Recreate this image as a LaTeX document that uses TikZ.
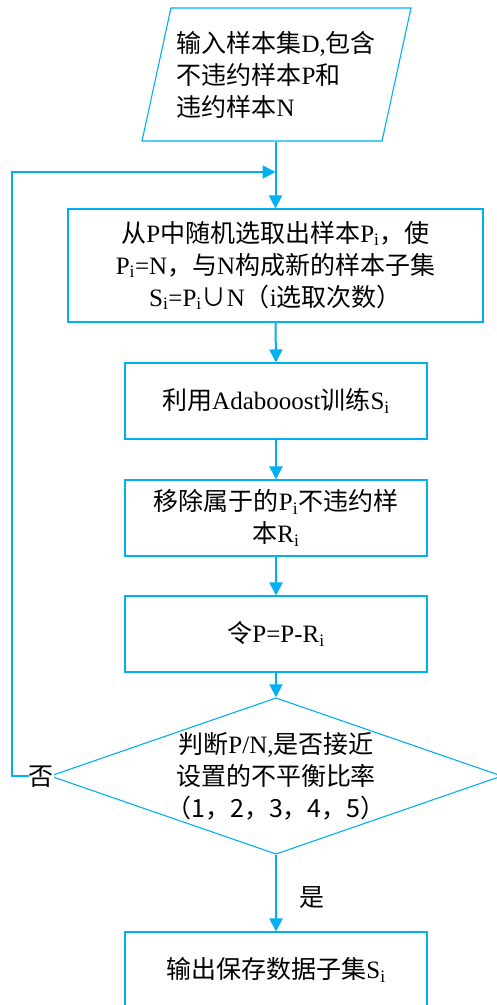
\documentclass[tikz,border=0pt]{standalone}
\usepackage{fontspec}
\setmainfont{Liberation Serif}
\newfontfamily\zhfont{Noto Sans CJK SC}
\newcommand\zh[1]{{\zhfont #1}}
\newcommand\sub[1]{\textsubscript{#1}}
\newcommand\mainsz{\fontsize{25}{32}\selectfont}
\usetikzlibrary{shapes.geometric,arrows.meta}
\definecolor{lineblue}{RGB}{0,176,240}
\begin{document}
\begin{tikzpicture}[x=1pt,y=-1pt,
  box/.style={draw=lineblue, line width=1.1pt, fill=white, minimum width=302pt,
    minimum height=76pt, align=center, inner sep=2pt, font=\mainsz},
  flow/.style={draw=lineblue, line width=2pt, -{Triangle[width=13pt,length=13pt]}},
  lbl/.style={font=\mainsz, inner sep=0pt}]
\useasboundingbox (0,0) rectangle (497,1005);
\node[draw=lineblue, line width=1.1pt, trapezium, trapezium left angle=72,
  trapezium right angle=108, trapezium stretches body, minimum width=269pt,
  minimum height=133pt, inner sep=1pt, text width=200pt, align=left, font=\mainsz]
  (in) at (276.5,74.5) {\zh{输入样本集}D,\zh{包含}\\\zh{不违约样本}P\zh{和}\\\zh{违约样本}N};
\node[box, minimum width=415pt, minimum height=113pt] (b1) at (275.5,265.5)
  {\zh{从}P\zh{中随机选取出样本}P\sub{i}\zh{，使}\\
   P\sub{i}=N\zh{，与}N\zh{构成新的样本子集}\\
   S\sub{i}=P\sub{i}\zh{∪}N\zh{（}i\zh{选取次数）}};
\node[box] (b2) at (276,401) {\zh{利用}Adabooost\zh{训练}S\sub{i}};
\node[box] (b3) at (276,518) {\zh{移除属于的}P\sub{i}\zh{不违约样}\\\zh{本}R\sub{i}};
\node[box] (b4) at (276,634) {\zh{令}P=P-R\sub{i}};
\node[draw=lineblue, line width=1.1pt, diamond, aspect=2.756, minimum width=452pt,
  inner sep=-4pt, align=center, font=\mainsz] (dec) at (276,776)
  {\zh{判断}P/N,\zh{是否接近}\\\zh{设置的不平衡比率}\\\zh{（1，2，3，4，5）}};
\node[box] (b5) at (276,970) {\zh{输出保存数据子集}S\sub{i}};
\coordinate (lp) at (12,172);
\draw[flow] (in.south -| b1.north) -- (b1.north);
\draw[flow] (b1.south) -- (b2.north);
\draw[flow] (b2.south) -- (b3.north);
\draw[flow] (b3.south) -- (b4.north);
\draw[flow] (b4.south) -- (dec.north);
\draw[flow] (dec.south) -- (b5.north);
\draw[flow] (dec.west) -- (dec.west -| lp) -- (lp) -- (lp -| b1.north);
\node[lbl, fill=white] (no) at (41,777) {\zh{否}};
\node[lbl] (yes) at (312,898) {\zh{是}};
\end{tikzpicture}
\end{document}
